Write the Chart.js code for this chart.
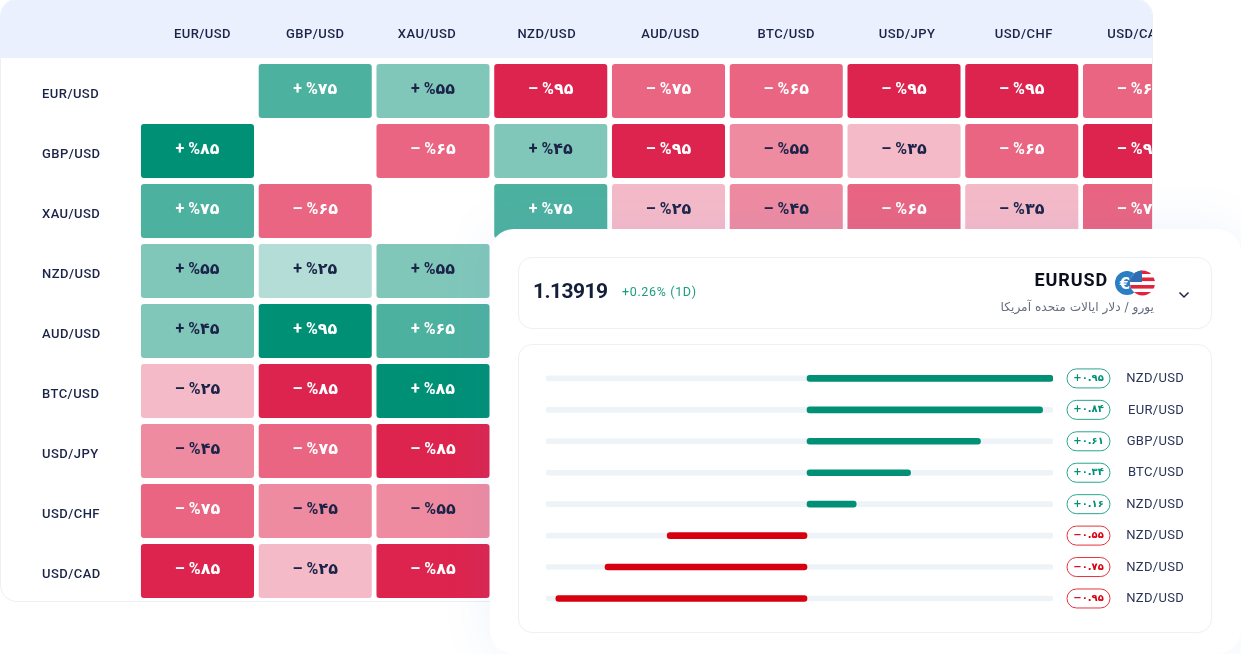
<!DOCTYPE html>
<html>
<head>
<meta charset="utf-8">
<script src="https://cdn.jsdelivr.net/npm/chart.js@4/dist/chart.umd.min.js"></script>
<style>
  html, body { margin: 0; padding: 0; background: #fff; }
  #page { position: relative; width: 1241px; height: 654px; overflow: hidden; font-family: Roboto, "DejaVu Sans", sans-serif; }
  #table { position: absolute; left: 1px; top: 0; width: 1151px; height: 601px; overflow: hidden; border-radius: 16px; box-shadow: 0 0 0 1px #edf0f7; background: #fff; }
  #band { position: absolute; left: 0; top: 0; width: 100%; height: 58px; background: #eaf0fe; }
  #heat { position: absolute; left: -1px; top: 0; }
  #card { position: absolute; left: 490px; top: 229px; width: 751px; height: 425px; background: #fff; border-radius: 24px; box-shadow: 0 0 50px rgba(100,130,230,.10); }
  .panel { position: absolute; left: 518px; width: 692px; background: #fff; border: 1px solid #eef0f7; border-radius: 14px; }
  #head { top: 257px; height: 70px; }
  #body { top: 344px; height: 287px; }
  #bars { position: absolute; left: 518px; top: 344px; }
  .txt { position: absolute; white-space: nowrap; }
  #price { left: 533px; top: 279px; font: 700 21px Roboto, sans-serif; color: #141d3a; letter-spacing: -.55px; }
  #change { left: 622px; top: 284px; font: 400 12.5px Roboto, sans-serif; color: #1b9e7d; letter-spacing: .65px; }
  #pair { right: 133px; top: 269px; font: 700 18px Roboto, sans-serif; color: #0b0f1e; letter-spacing: .9px; }
  #sub { right: 87px; top: 300px; font: 400 12.2px "DejaVu Sans", sans-serif; color: #666d80; direction: rtl; }
  #flag { position: absolute; left: 1115px; top: 270px; }
  #chev { position: absolute; left: 1178px; top: 290px; }
</style>
</head>
<body>
<div id="page">
  <div id="table">
    <div id="band"></div>
    <canvas id="heat" width="1241" height="654"></canvas>
  </div>
  <div id="card"></div>
  <div class="panel" id="head"></div>
  <div class="panel" id="body"></div>
  <div class="txt" id="price">1.13919</div>
  <div class="txt" id="change">+0.26% (1D)</div>
  <div class="txt" id="pair">EURUSD</div>
  <div class="txt" id="sub">یورو / دلار ایالات متحده آمریکا</div>
  <svg id="flag" width="41" height="26" viewBox="0 0 41 26">
    <circle cx="12" cy="13" r="12" fill="#2a7fc4"/>
    <text x="10" y="18.5" font-family="DejaVu Sans" font-weight="700" font-size="15" fill="#fff" text-anchor="middle">€</text>
    <clipPath id="us"><circle cx="27.5" cy="13" r="12.5"/></clipPath>
    <g clip-path="url(#us)">
      <rect x="15" y="0" width="26" height="26" fill="#fff"/>
      <rect x="15" y="0" width="26" height="4" fill="#e0243c"/>
      <rect x="15" y="7.5" width="26" height="3.6" fill="#e0243c"/>
      <rect x="15" y="15" width="26" height="3.6" fill="#e0243c"/>
      <rect x="15" y="22" width="26" height="4" fill="#e0243c"/>
      <rect x="15" y="0" width="12" height="12" fill="#2f6db5"/>
    </g>
  </svg>
  <svg id="chev" width="12" height="10" viewBox="0 0 12 10"><path d="M1.5 2.5 L6 7 L10.5 2.5" fill="none" stroke="#1c2440" stroke-width="1.5"/></svg>
  <canvas id="bars" width="694" height="289"></canvas>
</div>

<script>
// correlation table
var columns = ['EUR/USD', 'GBP/USD', 'XAU/USD', 'NZD/USD', 'AUD/USD', 'BTC/USD', 'USD/JPY', 'USD/CHF', 'USD/CAD'];
var rows = ['EUR/USD', 'GBP/USD', 'XAU/USD', 'NZD/USD', 'AUD/USD', 'BTC/USD', 'USD/JPY', 'USD/CHF', 'USD/CAD'];
var eurRow = [null, 75, 55, -95, -75, -65, -95, -95, -65];
var gbpRow = [85, null, -65, 45, -95, -55, -35, -65, -95];
var xauRow = [75, -65, null, 75, -25, -45, -65, -35, -75];
var nzdRow = [55, 25, 55, null, null, null, null, null, null];
var audRow = [45, 95, 65, null, null, null, null, null, null];
var btcRow = [-25, -85, 85, null, null, null, null, null, null];
var jpyRow = [-45, -75, -85, null, null, null, null, null, null];
var chfRow = [-75, -45, -55, null, null, null, null, null, null];
var cadRow = [-85, -25, -85, null, null, null, null, null, null];
var tableValues = [eurRow, gbpRow, xauRow, nzdRow, audRow, btcRow, jpyRow, chfRow, cadRow];

// strength bars
var barLabels = ['NZD/USD', 'EUR/USD', 'GBP/USD', 'BTC/USD', 'NZD/USD', 'NZD/USD', 'NZD/USD', 'NZD/USD'];
var barValues = [0.95, 0.91, 0.67, 0.40, 0.19, -0.54, -0.78, -0.97];
var badgeTexts = ['+۰.۹۵', '+۰.۸۴', '+۰.۶۱', '+۰.۳۴', '+۰.۱۶', '−۰.۵۵', '−۰.۷۵', '−۰.۹۵'];

var NAVY = '#1b2448';

function toPersian(n) {
  return String(n).replace(/\d/g, function (d) { return '۰۱۲۳۴۵۶۷۸۹'[d]; });
}

function cellColor(v) {
  var a = Math.abs(v);
  if (v > 0) {
    if (a >= 85) return '#009076';
    if (a >= 65) return '#4db1a0';
    if (a >= 45) return '#80c7ba';
    return '#b3ddd6';
  }
  if (a >= 85) return '#dd244e';
  if (a >= 65) return '#e96582';
  if (a >= 45) return '#ee8ba1';
  return '#f5bac8';
}

// the header labels in the reference do not sit quite in the middle of their columns
var headerNudge = [5, 0, -6, -4, 2, 0, 3, 2, -3];

var tickSpacing = {
  id: 'tickSpacing',
  beforeDraw: function (chart) {
    chart.ctx.letterSpacing = chart.canvas.id === 'heat' ? '0.45px' : '0.3px';
    if (chart.canvas.id === 'heat') {
      chart.scales.x.getLabelItems().forEach(function (item, i) {
        if (!item.nudged) {
          item.options.translation[0] += headerNudge[i];
          item.nudged = true;
        }
      });
    }
  }
};

// writes the "+ %75" text in the middle of every cell
var cellText = {
  id: 'cellText',
  afterDatasetsDraw: function (chart) {
    var ctx = chart.ctx;
    ctx.save();
    ctx.letterSpacing = '0px';
    ctx.font = '700 16px Roboto, "DejaVu Sans", sans-serif';
    ctx.textAlign = 'center';
    ctx.textBaseline = 'middle';
    ctx.direction = 'ltr';
    tableValues.forEach(function (row, i) {
      var meta = chart.getDatasetMeta(i);
      row.forEach(function (v, j) {
        if (v === null) return;
        var bar = meta.data[j];
        ctx.fillStyle = Math.abs(v) >= 65 ? '#fff' : NAVY;
        ctx.fillText((v > 0 ? '+' : '–') + ' %' + toPersian(Math.abs(v)), bar.x, (bar.y + bar.base) / 2 - 1);
      });
    });
    ctx.restore();
  }
};

new Chart(document.getElementById('heat').getContext('2d'), {
  type: 'bar',
  plugins: [tickSpacing, cellText],
  data: {
    labels: columns,
    datasets: tableValues.map(function (row, i) {
      return {
        label: rows[i],
        data: row.map(function (v) { return v === null ? null : [i - 0.45, i + 0.45]; }),
        backgroundColor: row.map(function (v) { return v === null ? 'transparent' : cellColor(v); }),
        borderRadius: 3,
        borderSkipped: false,
        grouped: false,
        categoryPercentage: 1,
        barPercentage: 0.96
      };
    })
  },
  options: {
    responsive: false,
    animation: false,
    layout: { padding: { left: 42, right: 42.6, top: 0, bottom: 53 } },
    plugins: { legend: { display: false }, tooltip: { enabled: false } },
    scales: {
      x: {
        position: 'top',
        afterFit: function (s) { s.height = 61; },
        grid: { display: false, drawTicks: false },
        border: { display: false },
        ticks: { autoSkip: false, maxRotation: 0, padding: 18, color: NAVY, font: { family: 'Roboto', size: 13, weight: 500 } }
      },
      y: {
        reverse: true,
        min: -0.5,
        max: 8.5,
        afterFit: function (s) { s.width = 96.6; },
        afterBuildTicks: function (s) { s.ticks = rows.map(function (r, i) { return { value: i }; }); },
        grid: { display: false, drawTicks: false },
        border: { display: false },
        ticks: {
          crossAlign: 'far',
          labelOffset: 4,
          autoSkip: false,
          color: NAVY,
          font: { family: 'Roboto', size: 13, weight: 500 },
          callback: function (v) { return rows[v]; }
        }
      }
    }
  }
});

// outlined pill with the value, between the track and the pair name
var badges = {
  id: 'badges',
  afterDatasetsDraw: function (chart) {
    var ctx = chart.ctx;
    var meta = chart.getDatasetMeta(0);
    ctx.save();
    ctx.letterSpacing = '0px';
    ctx.textAlign = 'center';
    ctx.textBaseline = 'middle';
    ctx.direction = 'ltr';
    ctx.font = '700 10px "DejaVu Sans", sans-serif';
    badgeTexts.forEach(function (t, i) {
      var y = meta.data[i].y;
      var x = chart.chartArea.right + 14;
      var color = barValues[i] > 0 ? '#2aa58d' : '#e5333b';
      ctx.beginPath();
      ctx.roundRect(x, y - 9.5, 43, 19, 9.5);
      ctx.strokeStyle = color;
      ctx.lineWidth = 1;
      ctx.stroke();
      ctx.fillStyle = barValues[i] > 0 ? '#009076' : '#d7000f';
      ctx.fillText(t, x + 21.5, y);
    });
    ctx.restore();
  }
};

new Chart(document.getElementById('bars').getContext('2d'), {
  type: 'bar',
  plugins: [tickSpacing, badges],
  data: {
    labels: barLabels,
    datasets: [{
      data: barValues.map(function (v) { return [0, v]; }),
      backgroundColor: barValues.map(function (v) { return v > 0 ? '#009076' : '#d7000f'; }),
      barThickness: 6,
      borderRadius: 3,
      borderSkipped: false,
      grouped: false
    }, {
      data: barValues.map(function () { return [-1.008, 0.95]; }),
      backgroundColor: '#edf3f7',
      barThickness: 5,
      borderRadius: 3,
      borderSkipped: false,
      grouped: false
    }]
  },
  options: {
    indexAxis: 'y',
    responsive: false,
    animation: false,
    layout: { padding: { left: 28, right: 28, top: 18.7, bottom: 18.8 } },
    plugins: { legend: { display: false }, tooltip: { enabled: false } },
    scales: {
      x: { display: false, min: -1.008, max: 0.95 },
      y: {
        position: 'right',
        afterFit: function (s) { s.width = 131; },
        grid: { display: false, drawTicks: false },
        border: { display: false },
        ticks: { crossAlign: 'far', autoSkip: false, labelOffset: 0.5, color: '#2a3358', font: { family: 'Roboto', size: 13 } }
      }
    }
  }
});
</script>
</body>
</html>
